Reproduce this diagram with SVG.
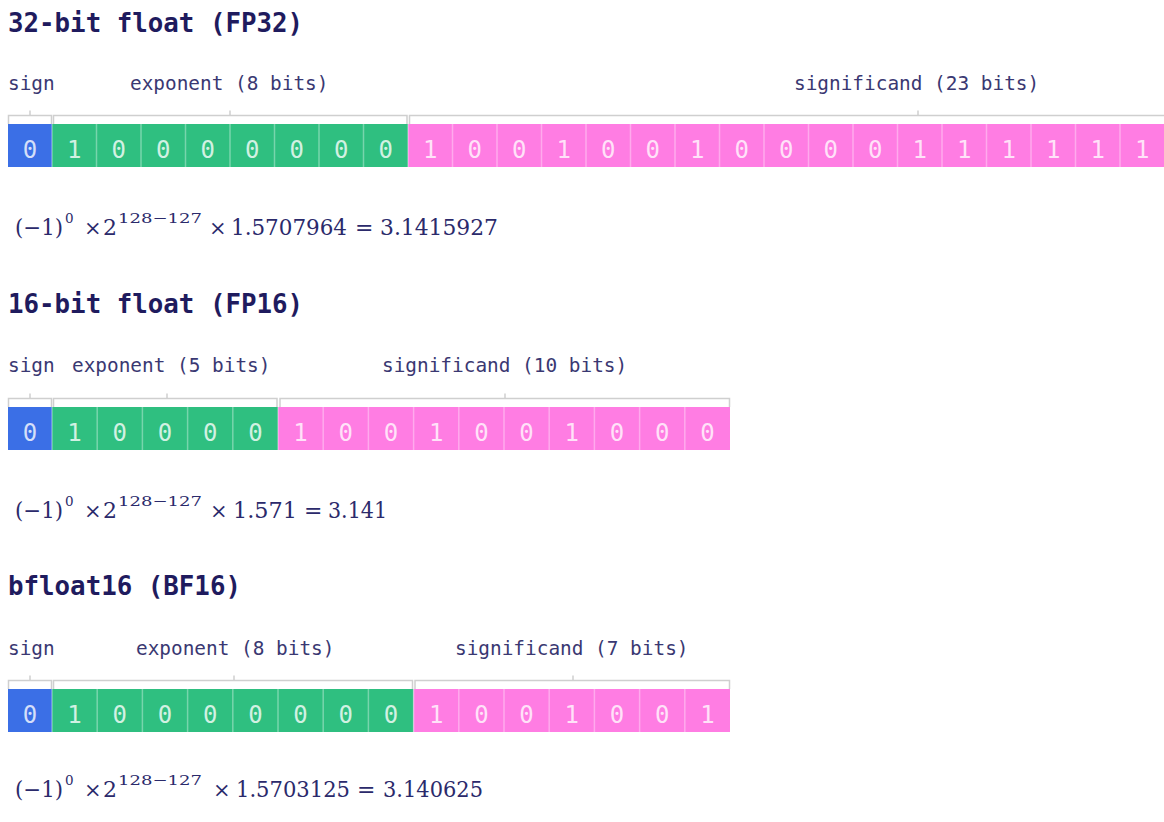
<svg xmlns="http://www.w3.org/2000/svg" width="1164" height="822" viewBox="0 0 1164 822">
<style>
.bg{fill:#ffffff}
.title{font-family:"DejaVu Sans Mono","Liberation Mono",monospace;font-weight:bold;font-size:25.8px;fill:#1f1b5e}
.lbl{font-family:"DejaVu Sans Mono","Liberation Mono",monospace;font-size:19.4px;fill:#3a3872}
.bit{font-family:"DejaVu Sans Mono","Liberation Mono",monospace;font-size:24px;fill:#ffffff;fill-opacity:0.78;text-anchor:middle}
.sgn{fill:#3b6fe6}
.exp{fill:#2fbf80}
.man{fill:#ff7de3}
.sep{stroke:#ffffff;stroke-opacity:0.35;stroke-width:1.5;fill:none}
.brk{stroke:#cfcfcf;stroke-width:1.5;fill:none}
.f{font-family:"DejaVu Serif","Liberation Serif",serif;font-size:22px;fill:#2b2a6b}
.x{font-family:"DejaVu Serif","Liberation Serif",serif;font-size:21px;fill:#2b2a6b}
.sup{font-family:"DejaVu Serif","Liberation Serif",serif;font-size:13.5px;fill:#2b2a6b}
</style>
<rect class="bg" x="0" y="0" width="1164" height="822"/>

<!-- FP32 -->
<g id="fp32">
<text class="title" x="8" y="32">32-bit float (FP32)</text>
<g id="fp32-sign">
<text class="lbl" x="8" y="90">sign</text>
<path class="brk" d="M8.5 124V115.5H51.5V124M30 115.5V110.5"/>
<rect class="sgn" x="8" y="124" width="44" height="43"/>
<text class="bit" x="30" y="158">0</text>
</g>
<g id="fp32-exponent">
<text class="lbl" x="130" y="90">exponent (8 bits)</text>
<path class="brk" d="M53.5 124V115.5H407V124M230 115.5V110.5"/>
<rect class="exp" x="52" y="124" width="356" height="43"/>
<path class="sep" d="M52 124V167M96.5 124V167M141 124V167M185.5 124V167M230 124V167M274.5 124V167M319 124V167M363.5 124V167"/>
<text class="bit" x="74.25" y="158">1</text>
<text class="bit" x="118.75" y="158">0</text>
<text class="bit" x="163.25" y="158">0</text>
<text class="bit" x="207.75" y="158">0</text>
<text class="bit" x="252.25" y="158">0</text>
<text class="bit" x="296.75" y="158">0</text>
<text class="bit" x="341.25" y="158">0</text>
<text class="bit" x="385.75" y="158">0</text>
</g>
<g id="fp32-significand">
<text class="lbl" x="794" y="90">significand (23 bits)</text>
<path class="brk" d="M409.5 124V115.5H1164M918 115.5V110.5"/>
<rect class="man" x="408" y="124" width="756" height="43"/>
<path class="sep" d="M408 124V167M452.5 124V167M497 124V167M541.5 124V167M586 124V167M630.5 124V167M675 124V167M719.5 124V167M764 124V167M808.5 124V167M853 124V167M897.5 124V167M942 124V167M986.5 124V167M1031 124V167M1075.5 124V167M1120 124V167"/>
<text class="bit" x="430.25" y="158">1</text>
<text class="bit" x="474.75" y="158">0</text>
<text class="bit" x="519.25" y="158">0</text>
<text class="bit" x="563.75" y="158">1</text>
<text class="bit" x="608.25" y="158">0</text>
<text class="bit" x="652.75" y="158">0</text>
<text class="bit" x="697.25" y="158">1</text>
<text class="bit" x="741.75" y="158">0</text>
<text class="bit" x="786.25" y="158">0</text>
<text class="bit" x="830.75" y="158">0</text>
<text class="bit" x="875.25" y="158">0</text>
<text class="bit" x="919.75" y="158">1</text>
<text class="bit" x="964.25" y="158">1</text>
<text class="bit" x="1008.75" y="158">1</text>
<text class="bit" x="1053.25" y="158">1</text>
<text class="bit" x="1097.75" y="158">1</text>
<text class="bit" x="1142.25" y="158">1</text>
</g>
<g id="fp32-formula">
<text class="f" x="15" y="235" textLength="48" lengthAdjust="spacingAndGlyphs">(−1)</text>
<text class="sup" x="65" y="223">0</text>
<text class="x" x="84" y="235">×</text>
<text class="f" x="103" y="235">2</text>
<text class="sup" x="118" y="223" textLength="84" lengthAdjust="spacingAndGlyphs">128−127</text>
<text class="x" x="209" y="235">×</text>
<text class="f" x="231" y="235" textLength="116" lengthAdjust="spacingAndGlyphs">1.5707964</text>
<text class="f" x="355" y="235">=</text>
<text class="f" x="380" y="235" textLength="118" lengthAdjust="spacingAndGlyphs">3.1415927</text>
</g>
</g>

<!-- FP16 -->
<g id="fp16">
<text class="title" x="8" y="313">16-bit float (FP16)</text>
<g id="fp16-sign">
<text class="lbl" x="8" y="372">sign</text>
<path class="brk" d="M8.5 407V398.5H51.5V407M30 398.5V393.5"/>
<rect class="sgn" x="8" y="407" width="44" height="43"/>
<text class="bit" x="30" y="441">0</text>
</g>
<g id="fp16-exponent">
<text class="lbl" x="72" y="372">exponent (5 bits)</text>
<path class="brk" d="M53.5 407V398.5H277V407M167 398.5V393.5"/>
<rect class="exp" x="52" y="407" width="226" height="43"/>
<path class="sep" d="M52 407V450M97.2 407V450M142.4 407V450M187.6 407V450M232.8 407V450"/>
<text class="bit" x="74.6" y="441">1</text>
<text class="bit" x="119.8" y="441">0</text>
<text class="bit" x="165" y="441">0</text>
<text class="bit" x="210.2" y="441">0</text>
<text class="bit" x="255.4" y="441">0</text>
</g>
<g id="fp16-significand">
<text class="lbl" x="382" y="372">significand (10 bits)</text>
<path class="brk" d="M280 407V398.5H729.5V407M505 398.5V393.5"/>
<rect class="man" x="278" y="407" width="452" height="43"/>
<path class="sep" d="M278 407V450M323.2 407V450M368.4 407V450M413.6 407V450M458.8 407V450M504 407V450M549.2 407V450M594.4 407V450M639.6 407V450M684.8 407V450"/>
<text class="bit" x="300.6" y="441">1</text>
<text class="bit" x="345.8" y="441">0</text>
<text class="bit" x="391" y="441">0</text>
<text class="bit" x="436.2" y="441">1</text>
<text class="bit" x="481.4" y="441">0</text>
<text class="bit" x="526.6" y="441">0</text>
<text class="bit" x="571.8" y="441">1</text>
<text class="bit" x="617" y="441">0</text>
<text class="bit" x="662.2" y="441">0</text>
<text class="bit" x="707.4" y="441">0</text>
</g>
<g id="fp16-formula">
<text class="f" x="15" y="518" textLength="48" lengthAdjust="spacingAndGlyphs">(−1)</text>
<text class="sup" x="65" y="506">0</text>
<text class="x" x="84" y="518">×</text>
<text class="f" x="103" y="518">2</text>
<text class="sup" x="118" y="506" textLength="84" lengthAdjust="spacingAndGlyphs">128−127</text>
<text class="x" x="210" y="518">×</text>
<text class="f" x="233" y="518" textLength="64" lengthAdjust="spacingAndGlyphs">1.571</text>
<text class="f" x="304" y="518">=</text>
<text class="f" x="328" y="518" textLength="59" lengthAdjust="spacingAndGlyphs">3.141</text>
</g>
</g>

<!-- BF16 -->
<g id="bf16">
<text class="title" x="8" y="595">bfloat16 (BF16)</text>
<g id="bf16-sign">
<text class="lbl" x="8" y="655">sign</text>
<path class="brk" d="M8.5 689V680.5H51.5V689M30 680.5V675.5"/>
<rect class="sgn" x="8" y="689" width="44" height="43"/>
<text class="bit" x="30" y="723">0</text>
</g>
<g id="bf16-exponent">
<text class="lbl" x="136" y="655">exponent (8 bits)</text>
<path class="brk" d="M53.5 689V680.5H412.5V689M234 680.5V675.5"/>
<rect class="exp" x="52" y="689" width="361.6" height="43"/>
<path class="sep" d="M52 689V732M97.2 689V732M142.4 689V732M187.6 689V732M232.8 689V732M278 689V732M323.2 689V732M368.4 689V732"/>
<text class="bit" x="74.6" y="723">1</text>
<text class="bit" x="119.8" y="723">0</text>
<text class="bit" x="165" y="723">0</text>
<text class="bit" x="210.2" y="723">0</text>
<text class="bit" x="255.4" y="723">0</text>
<text class="bit" x="300.6" y="723">0</text>
<text class="bit" x="345.8" y="723">0</text>
<text class="bit" x="391" y="723">0</text>
</g>
<g id="bf16-significand">
<text class="lbl" x="455" y="655">significand (7 bits)</text>
<path class="brk" d="M415 689V680.5H729.5V689M573 680.5V675.5"/>
<rect class="man" x="413.6" y="689" width="316.4" height="43"/>
<path class="sep" d="M413.6 689V732M458.8 689V732M504 689V732M549.2 689V732M594.4 689V732M639.6 689V732M684.8 689V732"/>
<text class="bit" x="436.2" y="723">1</text>
<text class="bit" x="481.4" y="723">0</text>
<text class="bit" x="526.6" y="723">0</text>
<text class="bit" x="571.8" y="723">1</text>
<text class="bit" x="617" y="723">0</text>
<text class="bit" x="662.2" y="723">0</text>
<text class="bit" x="707.4" y="723">1</text>
</g>
<g id="bf16-formula">
<text class="f" x="15" y="797" textLength="48" lengthAdjust="spacingAndGlyphs">(−1)</text>
<text class="sup" x="65" y="785">0</text>
<text class="x" x="84" y="797">×</text>
<text class="f" x="103" y="797">2</text>
<text class="sup" x="118" y="785" textLength="84" lengthAdjust="spacingAndGlyphs">128−127</text>
<text class="x" x="213" y="797">×</text>
<text class="f" x="236" y="797" textLength="114" lengthAdjust="spacingAndGlyphs">1.5703125</text>
<text class="f" x="357" y="797">=</text>
<text class="f" x="383" y="797" textLength="100" lengthAdjust="spacingAndGlyphs">3.140625</text>
</g>
</g>
</svg>
